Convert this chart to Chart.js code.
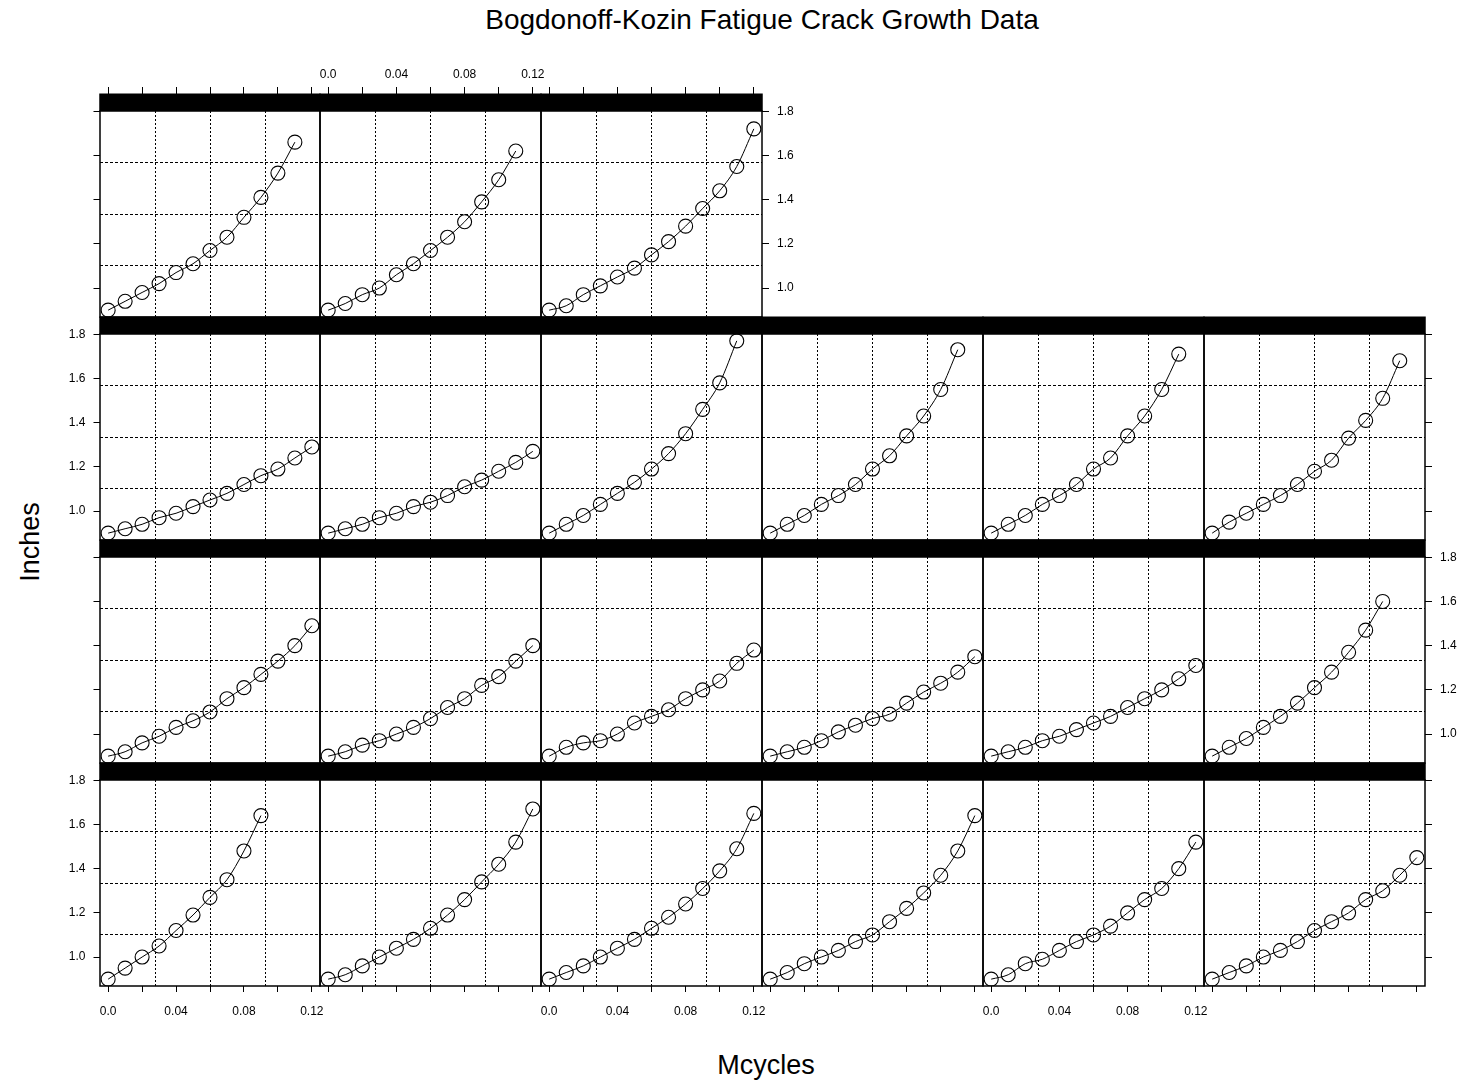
<!DOCTYPE html>
<html>
<head>
<meta charset="utf-8">
<title>Bogdonoff-Kozin Fatigue Crack Growth Data</title>
<script src="https://cdn.jsdelivr.net/npm/chart.js@4.4.1/dist/chart.umd.min.js"></script>
<style>
  body { margin: 0; background: #fff; font-family: "Liberation Sans", Arial, sans-serif; color: #000; }
  #page { position: relative; width: 1462px; height: 1080px; overflow: hidden; background: #fff; }
  #page canvas { position: absolute; }
  #title { position: absolute; left: 762px; top: 4px; transform: translateX(-50%); font-size: 28px; line-height: 32px; white-space: nowrap; }
  #xlab { position: absolute; left: 766px; top: 1049px; transform: translateX(-50%); font-size: 27px; line-height: 32px; }
  #ylab { position: absolute; left: 30px; top: 542px; transform: translate(-50%, -50%) rotate(-90deg); font-size: 27px; line-height: 32px; }
</style>
</head>
<body>
<div id="page">
  <div id="title">Bogdonoff-Kozin Fatigue Crack Growth Data</div>
  <div id="ylab">Inches</div>
  <div id="xlab">Mcycles</div>
</div>
<script>
// millions of cycles at each measurement
const cycles = [0, 0.01, 0.02, 0.03, 0.04, 0.05, 0.06, 0.07, 0.08, 0.09, 0.10, 0.11, 0.12];

// crack length (inches) per specimen
const spec01 = [0.90, 0.95, 1.00, 1.05, 1.12, 1.19, 1.27, 1.35, 1.48, 1.64];
const spec02 = [0.90, 0.92, 0.96, 1.00, 1.04, 1.08, 1.13, 1.19, 1.26, 1.34, 1.42, 1.52, 1.67];
const spec03 = [0.90, 0.93, 0.96, 1.00, 1.04, 1.08, 1.13, 1.18, 1.24, 1.31, 1.39, 1.49, 1.65];
const spec04 = [0.90, 0.93, 0.97, 1.00, 1.03, 1.07, 1.10, 1.16, 1.22, 1.29, 1.37, 1.48, 1.64];
const spec05 = [0.90, 0.92, 0.97, 0.99, 1.03, 1.07, 1.10, 1.14, 1.20, 1.26, 1.31, 1.40, 1.52];
const spec06 = [0.90, 0.93, 0.96, 1.00, 1.03, 1.07, 1.12, 1.16, 1.20, 1.26, 1.30, 1.37, 1.45];
const spec07 = [0.90, 0.92, 0.96, 0.99, 1.03, 1.06, 1.10, 1.16, 1.21, 1.27, 1.33, 1.40, 1.49];
const spec08 = [0.90, 0.92, 0.95, 0.97, 1.00, 1.03, 1.07, 1.12, 1.16, 1.22, 1.26, 1.33, 1.40];
const spec09 = [0.90, 0.94, 0.96, 0.97, 1.00, 1.05, 1.08, 1.11, 1.16, 1.20, 1.24, 1.32, 1.38];
const spec10 = [0.90, 0.92, 0.94, 0.97, 1.01, 1.04, 1.07, 1.09, 1.14, 1.19, 1.23, 1.28, 1.35];
const spec11 = [0.90, 0.92, 0.94, 0.97, 0.99, 1.02, 1.05, 1.08, 1.12, 1.16, 1.20, 1.25, 1.31];
const spec12 = [0.90, 0.94, 0.98, 1.03, 1.08, 1.14, 1.21, 1.28, 1.37, 1.47, 1.60];
const spec13 = [0.90, 0.92, 0.94, 0.97, 0.99, 1.02, 1.05, 1.08, 1.12, 1.16, 1.19, 1.24, 1.29];
const spec14 = [0.90, 0.92, 0.94, 0.97, 0.99, 1.02, 1.04, 1.07, 1.11, 1.14, 1.18, 1.22, 1.27];
const spec15 = [0.90, 0.94, 0.98, 1.03, 1.08, 1.13, 1.19, 1.26, 1.35, 1.46, 1.58, 1.77];
const spec16 = [0.90, 0.94, 0.98, 1.03, 1.07, 1.12, 1.19, 1.25, 1.34, 1.43, 1.55, 1.73];
const spec17 = [0.90, 0.94, 0.98, 1.03, 1.07, 1.12, 1.19, 1.24, 1.34, 1.43, 1.55, 1.71];
const spec18 = [0.90, 0.95, 0.99, 1.03, 1.07, 1.12, 1.18, 1.23, 1.33, 1.41, 1.51, 1.68];
const spec19 = [0.90, 0.94, 0.98, 1.02, 1.07, 1.11, 1.17, 1.23, 1.32, 1.41, 1.52, 1.66];
const spec20 = [0.90, 0.93, 0.97, 1.00, 1.06, 1.11, 1.17, 1.23, 1.30, 1.39, 1.49, 1.62];
const spec21 = [0.90, 0.92, 0.97, 1.01, 1.05, 1.09, 1.15, 1.21, 1.28, 1.36, 1.44, 1.55, 1.72];

// axis ticks
const xTickValues = [0, 0.02, 0.04, 0.06, 0.08, 0.10, 0.12];
const xTickLabels = ['0.0', '', '0.04', '', '0.08', '', '0.12'];
const yTickValues = [1.0, 1.2, 1.4, 1.6, 1.8];
const yTickLabels = ['1.0', '1.2', '1.4', '1.6', '1.8'];

// panel limits and reference grid (quarters of each panel)
const xMin = -0.0048, xMax = 0.1248;
const yMin = 0.869, yMax = 1.801;
const xGridLines = [0.0276, 0.06, 0.0924];
const yGridLines = [1.102, 1.335, 1.568];

// panels top row first, lattice fills from the bottom left
const layoutRows = [
  [spec19, spec20, spec21],
  [spec13, spec14, spec15, spec16, spec17, spec18],
  [spec07, spec08, spec09, spec10, spec11, spec12],
  [spec01, spec02, spec03, spec04, spec05, spec06]
];

const colEdges = [100, 320, 541, 762, 983, 1204, 1425];
const rowTops = [111, 334, 557, 780];
const panelH = 206;
const ML = 50, MR = 50, MT = 60, MB = 40, STRIP = 17.5;

const tickFont = { family: '"Liberation Sans", Arial, sans-serif', size: 12 };

// black strip above each panel plus the panel box
const panelFrame = {
  id: 'panelFrame',
  afterDraw(chart) {
    const { ctx, chartArea: a } = chart;
    ctx.save();
    ctx.fillStyle = '#000';
    ctx.fillRect(a.left - 0.75, a.top - STRIP, a.right - a.left + 1.5, STRIP);
    ctx.strokeStyle = '#000';
    ctx.lineWidth = 1.5;
    ctx.strokeRect(a.left, a.top, a.right - a.left, a.bottom - a.top);
    ctx.restore();
  }
};

const axis = (position, size, values, labels, marks, showLabels, markLen, pad) => {
  const horizontal = position === 'top' || position === 'bottom';
  return {
    type: 'linear',
    position,
    min: horizontal ? xMin : yMin,
    max: horizontal ? xMax : yMax,
    afterBuildTicks: s => { s.ticks = values.map(value => ({ value })); },
    afterFit: s => { if (horizontal) s.height = size; else s.width = size; },
    grid: { display: marks, drawOnChartArea: false, drawTicks: true, tickLength: markLen, color: '#000', tickWidth: 1 },
    border: { display: false },
    ticks: {
      display: showLabels, autoSkip: false, maxRotation: 0, minRotation: 0,
      padding: pad, color: '#000', font: tickFont,
      callback: (v, i) => labels[i]
    }
  };
};

const gridAxis = (position, values, dash) => {
  const horizontal = position === 'top' || position === 'bottom';
  return {
    type: 'linear',
    position,
    min: horizontal ? xMin : yMin,
    max: horizontal ? xMax : yMax,
    afterBuildTicks: s => { s.ticks = values.map(value => ({ value })); },
    afterFit: s => { if (horizontal) s.height = 0; else s.width = 0; },
    grid: { drawTicks: false, color: '#000', lineWidth: 1 },
    border: { display: false, dash },
    ticks: { display: false }
  };
};

const page = document.getElementById('page');

layoutRows.forEach((row, r) => {
  row.forEach((ys, c) => {
    const left = colEdges[c];
    const w = colEdges[c + 1] - left;
    const top = rowTops[r];
    const canvas = document.createElement('canvas');
    canvas.width = w + ML + MR;
    canvas.height = panelH + MT + MB;
    canvas.style.left = (left - ML) + 'px';
    canvas.style.top = (top - MT) + 'px';
    page.appendChild(canvas);

    const lastRow = r === layoutRows.length - 1;
    const topRow = r === 0;
    const firstCol = c === 0;
    const lastCol = c === row.length - 1;

    new Chart(canvas, {
      type: 'line',
      data: {
        datasets: [{
          data: cycles.slice(0, ys.length).map((x, i) => ({ x, y: ys[i] })),
          xAxisID: 'x',
          yAxisID: 'y',
          borderColor: '#000',
          borderWidth: 1,
          cubicInterpolationMode: 'monotone',
          pointRadius: 7,
          pointHoverRadius: 7,
          pointBorderWidth: 1.1,
          pointBorderColor: '#000',
          pointBackgroundColor: 'rgba(0,0,0,0)',
          fill: false
        }]
      },
      options: {
        responsive: false,
        animation: false,
        events: [],
        layout: { padding: 0 },
        plugins: { legend: { display: false }, tooltip: { enabled: false } },
        scales: {
          x: axis('bottom', MB, xTickValues, xTickLabels, lastRow, lastRow && c % 2 === 0, 6, 12),
          xt: axis('top', MT, xTickValues, xTickLabels, topRow, topRow && c % 2 === 1, STRIP + 6.5, 5),
          y: axis('left', ML, yTickValues, yTickLabels, firstCol, firstCol && r % 2 === 1, 6.5, 8),
          yr: axis('right', MR, yTickValues, yTickLabels, lastCol, lastCol && r % 2 === 0, 7, 8),
          xg: gridAxis('bottom', xGridLines, [2, 2]),
          yg: gridAxis('left', yGridLines, [3, 2])
        }
      },
      plugins: [panelFrame]
    });
  });
});
</script>
</body>
</html>
